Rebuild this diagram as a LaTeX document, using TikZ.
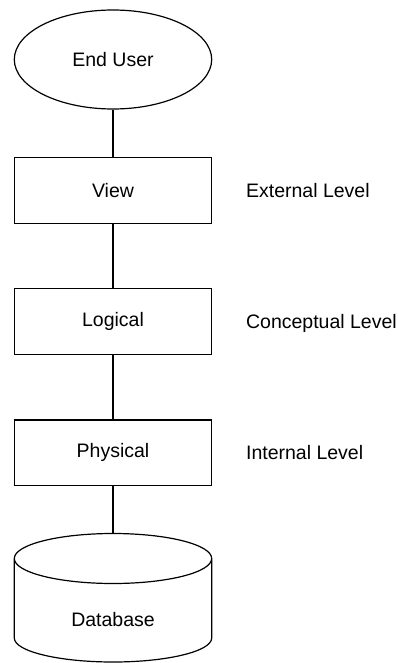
\documentclass[tikz,border=0pt]{standalone}
\usepackage{fontspec}
\setmainfont{Liberation Sans}
\usetikzlibrary{shapes.geometric}
\begin{document}
\begin{tikzpicture}[x=1pt, y=-1pt, line width=1.2pt,
  every node/.style={font=\fontsize{19.5}{23}\selectfont},
  levelbox/.style={draw, rectangle, minimum width=197.4pt, minimum height=65.7pt, inner sep=0pt},
  userbox/.style={draw, ellipse, minimum width=197.4pt, minimum height=99pt, inner sep=0pt},
  note/.style={anchor=base west, inner sep=0pt},
  link/.style={draw}]
\useasboundingbox (0,0) rectangle (398,663);

% actor and the three schema levels
\node[userbox]  (user)     at (113,59.5)  {End User};
\node[levelbox] (view)     at (113,190.5) {View};
\node[levelbox] (logical)  at (113,321.7) {Logical};
\node[levelbox] (physical) at (113,452.8) {Physical};

% database cylinder
\coordinate (dbtop) at (113,533.5);
\draw (14.3,558.5) arc[start angle=180, end angle=-180, x radius=98.7, y radius=25]
      (14.3,558.5) -- (14.3,638)
      arc[start angle=180, end angle=0, x radius=98.7, y radius=24] -- (211.7,558.5);
\node (db) at (113,620) {Database};

% level names
\node[note] (ext)  at (245.5,197.3) {External Level};
\node[note] (conc) at (245.5,328.5) {Conceptual Level};
\node[note] (int)  at (245.5,459.5) {Internal Level};

% connectors
\path[link] (user.south) -- (view.north);
\path[link] (view.south) -- (logical.north);
\path[link] (logical.south) -- (physical.north);
\path[link] (physical.south) -- (dbtop);
\end{tikzpicture}
\end{document}
